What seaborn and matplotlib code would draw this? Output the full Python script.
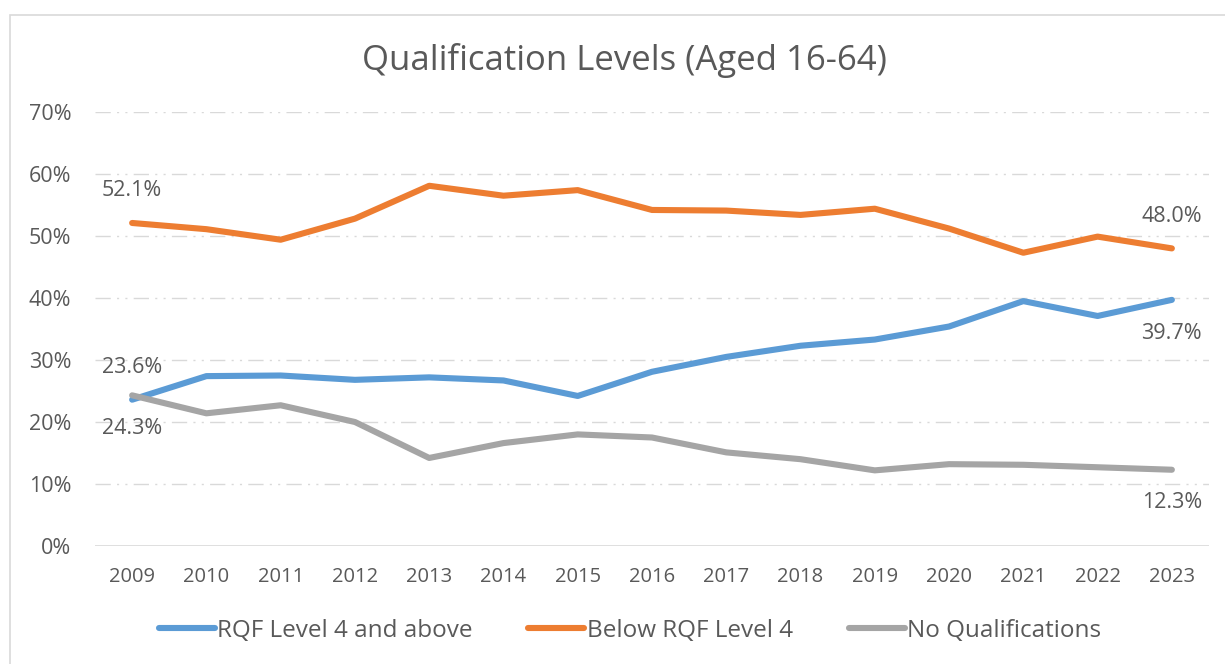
import matplotlib
matplotlib.use("Agg")
from matplotlib import pyplot as plt
from matplotlib.patches import Rectangle
from matplotlib.lines import Line2D
import numpy as np
import pandas as pd
import seaborn as sns

# data (shares of people aged 16-64)
years = [2009, 2010, 2011, 2012, 2013, 2014, 2015, 2016, 2017, 2018, 2019, 2020, 2021, 2022, 2023]
rqf4_above = [23.6, 27.4, 27.5, 26.8, 27.2, 26.7, 24.2, 28.1, 30.5, 32.3, 33.3, 35.4, 39.5, 37.1, 39.7]
below_rqf4 = [52.1, 51.1, 49.4, 52.8, 58.1, 56.5, 57.4, 54.2, 54.1, 53.4, 54.4, 51.2, 47.3, 49.9, 48.0]
no_quals = [24.3, 21.4, 22.7, 20.0, 14.2, 16.6, 18.0, 17.5, 15.1, 14.0, 12.2, 13.2, 13.1, 12.7, 12.3]
series_names = ["RQF Level 4 and above", "Below RQF Level 4", "No Qualifications"]
y_ticks = [0, 10, 20, 30, 40, 50, 60, 70]

colors = ["#5B9BD5", "#ED7D31", "#A5A5A5"]
text_col = "#595959"
grid_col = "#D9D9D9"

sns.set_theme(style="white")
plt.rcParams["font.family"] = ["Open Sans", "DejaVu Sans"]

df = pd.DataFrame({
    "year": years * 3,
    "value": rqf4_above + below_rqf4 + no_quals,
    "series": [series_names[0]] * len(years) + [series_names[1]] * len(years) + [series_names[2]] * len(years),
})

W, H = 1225, 664
fig = plt.figure(figsize=(W / 100, H / 100), dpi=100)
ax = fig.add_axes([95 / W, 1 - 546 / H, (1209 - 95) / W, (546 - 112) / H])

# outer chart frame (left/top visible, the rest is cropped)
fig.patches.append(Rectangle((10 / W, -0.1), 1.2, 1.1 - 15 / H, transform=fig.transFigure,
                             fill=False, edgecolor="#D9D9D9", lw=1.2, zorder=0))

# dash-dot-dot gridlines
for t in y_ticks[1:]:
    ax.axhline(t, color=grid_col, lw=1.0, ls=(0, (11, 4.5, 1.5, 4.5, 1.5, 4.5)), zorder=0)
ax.axhline(0, color=grid_col, lw=1.2, zorder=0)

sns.lineplot(data=df, x="year", y="value", hue="series", hue_order=series_names,
             palette=colors, lw=4.4, ax=ax, legend=False, sort=False)
for ln in ax.get_lines():
    ln.set_solid_capstyle("round")
    ln.set_solid_joinstyle("round")

ax.set_xlim(years[0] - 0.5, years[-1] + 0.5)
ax.set_ylim(0, 70)
ax.set_xticks(years)
ax.set_xticklabels([str(y) for y in years])
ax.set_yticks(y_ticks)
ax.set_yticklabels([f"{t}%" for t in y_ticks])
ax.tick_params(axis="both", length=0, labelcolor=text_col)
ax.tick_params(axis="x", labelsize=14.5, pad=15)
ax.tick_params(axis="y", labelsize=15.5, pad=17)
ax.set_xlabel("")
ax.set_ylabel("")
for s in ax.spines.values():
    s.set_visible(False)

# data labels at the first and last years
def label(x, v, dy):
    ax.annotate(f"{v:.1f}%", (x, v), xytext=(0, dy), textcoords="offset pixels",
                ha="center", va="center", fontsize=15.5, color=text_col)

label(years[0], below_rqf4[0], 32)
label(years[0], rqf4_above[0], 32)
label(years[0], no_quals[0], -33)
label(years[-1], below_rqf4[-1], 32)
label(years[-1], rqf4_above[-1], -34)
label(years[-1], no_quals[-1], -33)

fig.text(624 / W, 1 - 60 / H, "Qualification Levels (Aged 16-64)", ha="center", va="center",
         fontsize=25, color=text_col)

handles = [Line2D([0], [0], color=c, lw=4.4, solid_capstyle="round") for c in colors]
fig.legend(handles, series_names, loc="center", bbox_to_anchor=(630 / W, 1 - 631 / H), ncol=3,
           frameon=False, fontsize=17.5, labelcolor=text_col, handlelength=2.3,
           handletextpad=0.1, columnspacing=2.3)

fig.savefig("out.png", dpi=100)
